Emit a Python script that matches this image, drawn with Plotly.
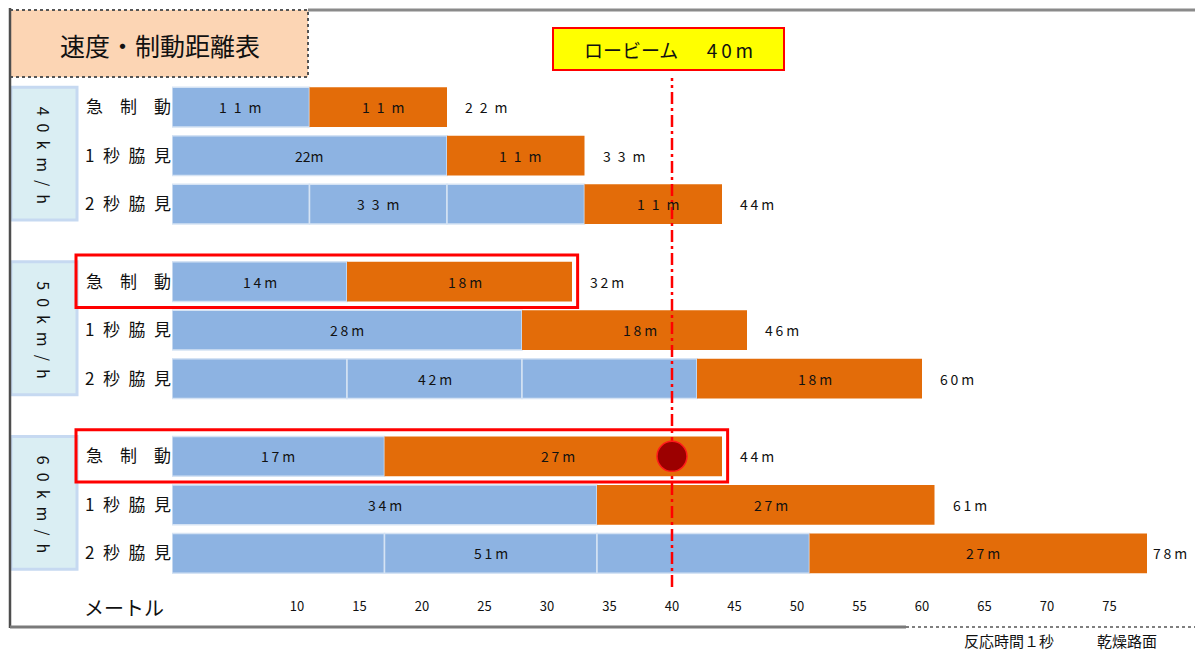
import plotly.graph_objects as go

# ---------------- data ----------------
speed_labels = ["40km/h", "50km/h", "60km/h"]
row_labels = ["急　制　動", "1\u2002秒\u2002脇\u2002見", "2\u2002秒\u2002脇\u2002見"]
# blue: reaction (1 s) + looking-away distance, split into the drawn segments (m)
blue_segments = [
    [11], [22], [11, 11, 11],
    [14], [28], [14, 14, 14],
    [17], [34], [17, 17, 17],
]
# orange: braking distance (m)
braking = [11, 11, 11, 18, 18, 18, 27, 27, 27]
# spacing style of each label as printed in the table
blue_gap = ["wide", "none", "wide", "thin", "thin", "thin", "thin", "thin", "thin"]
orange_gap = ["wide", "wide", "wide", "thin", "thin", "thin", "thin", "thin", "thin"]
total_gap = ["wide", "wide", "thin", "thin", "thin", "thin", "thin", "thin", "thin"]
highlight_rows = [3, 6]
low_beam = 40
marked_row = 6
x_ticks = [10, 15, 20, 25, 30, 35, 40, 45, 50, 55, 60, 65, 70, 75]
x_max = 80

# ---------------- layout helpers ----------------
W, H = 1195, 650
ML, MR, MT, MB = 172, 23, 78, 53
PW, PH = W - ML - MR, H - MT - MB
FONT = "Noto Sans CJK JP"
BLUE = "#8db3e2"
ORANGE = "#e36c09"
TXT = "#111111"
GAPS = {"wide": "\u2002", "thin": "\u2009", "none": ""}


def px_x(px):
    return (px - ML) / PW


def px_y(py):
    return (H - MB - py) / PH


def label(s, gap):
    return GAPS[gap].join(s)


ypos = [g * 3.6 + r for g in range(3) for r in range(3)]
blue_tot = [sum(s) for s in blue_segments]
totals = [b + o for b, o in zip(blue_tot, braking)]

fig = go.Figure()

# blue segments
for k in range(3):
    xs, bases, ys = [], [], []
    for i, segs in enumerate(blue_segments):
        if len(segs) > k:
            xs.append(segs[k])
            bases.append(sum(segs[:k]))
            ys.append(ypos[i])
    fig.add_trace(go.Bar(
        x=xs, base=bases, y=ys, orientation="h", width=0.82,
        marker=dict(color=BLUE, line=dict(color="#d5e3f4", width=1.5)),
        hoverinfo="skip", showlegend=False))

# orange braking segments
fig.add_trace(go.Bar(
    x=braking, base=blue_tot, y=ypos, orientation="h", width=0.82,
    marker=dict(color=ORANGE, line=dict(width=0)),
    hoverinfo="skip", showlegend=False))

annotations = []
shapes = []
LBL = dict(size=14, color=TXT, family=FONT)

# bar labels
for i in range(9):
    annotations.append(dict(
        x=blue_tot[i] / 2, y=ypos[i], xref="x", yref="y",
        xanchor="center", yanchor="middle",
        text=label(f"{blue_tot[i]}m", blue_gap[i]), showarrow=False, font=LBL))
    annotations.append(dict(
        x=blue_tot[i] + braking[i] / 2, y=ypos[i], xref="x", yref="y",
        xanchor="center", yanchor="middle", xshift=5,
        text=label(f"{braking[i]}m", orange_gap[i]), showarrow=False, font=LBL))
    annotations.append(dict(
        x=totals[i], y=ypos[i], xref="x", yref="y", xanchor="left", yanchor="middle",
        xshift=16 if totals[i] < 75 else 4,
        text=label(f"{totals[i]}m", total_gap[i]), showarrow=False, font=LBL))

# group (speed) boxes
for g in range(3):
    shapes.append(dict(
        type="rect", xref="paper", yref="y",
        x0=px_x(11), x1=px_x(77), y0=g * 3.6 - 0.41, y1=g * 3.6 + 2.33,
        fillcolor="#daeef3", line=dict(color="#c6d9f1", width=3), layer="below"))
    annotations.append(dict(
        x=px_x(44), y=g * 3.6 + 0.98, xref="paper", yref="y",
        xanchor="center", yanchor="middle",
        text="\u2002".join(speed_labels[g]), textangle=90, showarrow=False,
        font=dict(size=16, color=TXT, family=FONT)))

# red highlight boxes
for r in highlight_rows:
    shapes.append(dict(
        type="rect", xref="paper", yref="y",
        x0=px_x(76), x1=(totals[r] + 0.45) / x_max,
        y0=ypos[r] - 0.55, y1=ypos[r] + 0.53,
        line=dict(color="#ff0000", width=3), layer="above"))

# low beam line + marker dot
shapes.append(dict(
    type="line", xref="x", yref="paper", x0=low_beam, x1=low_beam,
    y0=px_y(587), y1=1.0,
    line=dict(color="#ff0000", width=2.5, dash="12px,4px,3px,4px"), layer="above"))
shapes.append(dict(
    type="circle", xref="x", yref="y", xsizemode="pixel", ysizemode="pixel",
    xanchor=low_beam, yanchor=ypos[marked_row], x0=-15, x1=15, y0=-15, y1=15,
    fillcolor="#9c0000", line=dict(color="#ff1a1a", width=1.5), layer="above"))

annotations.append(dict(
    x=low_beam - 0.3, y=px_y(49), xref="x", yref="paper",
    xanchor="center", yanchor="middle",
    text="ロービーム\u3000\u20024\u20090\u2009m", showarrow=False, width=229, height=40,
    bgcolor="#ffff00", bordercolor="#ff0000", borderwidth=2, borderpad=0,
    font=dict(size=19, color=TXT, family=FONT)))

# title box
shapes.append(dict(
    type="rect", xref="paper", yref="paper",
    x0=px_x(10), x1=px_x(308), y0=px_y(77), y1=px_y(10),
    fillcolor="#fcd5b4", line=dict(color="#555555", width=2, dash="dot")))
annotations.append(dict(
    x=px_x(160), y=px_y(45), xref="paper", yref="paper",
    xanchor="center", yanchor="middle",
    text="速度・制動距離表", showarrow=False,
    font=dict(size=25, color=TXT, family=FONT)))

# outer frame
shapes += [
    dict(type="line", xref="paper", yref="paper", x0=px_x(308), x1=px_x(1195),
         y0=px_y(10), y1=px_y(10), line=dict(color="#8a8a8a", width=3)),
    dict(type="line", xref="paper", yref="paper", x0=px_x(10), x1=px_x(10),
         y0=px_y(8), y1=px_y(628), line=dict(color="#4d4d4d", width=2.5)),
    dict(type="line", xref="paper", yref="paper", x0=px_x(10), x1=px_x(906),
         y0=px_y(627), y1=px_y(627), line=dict(color="#7a7a7a", width=3)),
    dict(type="line", xref="paper", yref="paper", x0=px_x(906), x1=px_x(1195),
         y0=px_y(627), y1=px_y(627), line=dict(color="#555555", width=1.5, dash="dot")),
]

# axis title and notes
annotations.append(dict(
    x=px_x(124), y=px_y(607), xref="paper", yref="paper", text="メートル",
    xanchor="center", yanchor="middle",
    showarrow=False, font=dict(size=20, color=TXT, family=FONT)))
annotations.append(dict(
    x=px_x(1009), y=px_y(641), xref="paper", yref="paper", text="反応時間１秒",
    xanchor="center", yanchor="middle",
    showarrow=False, font=dict(size=15, color=TXT, family=FONT)))
annotations.append(dict(
    x=px_x(1127), y=px_y(641), xref="paper", yref="paper", text="乾燥路面",
    xanchor="center", yanchor="middle",
    showarrow=False, font=dict(size=15, color=TXT, family=FONT)))

fig.update_layout(
    width=W, height=H, margin=dict(l=ML, r=MR, t=MT, b=MB),
    paper_bgcolor="white", plot_bgcolor="white",
    barmode="overlay", showlegend=False,
    font=dict(family=FONT, color=TXT),
    xaxis=dict(range=[0, x_max], tickvals=x_ticks, showgrid=False, zeroline=False,
               showline=False, ticks="", tickfont=dict(size=13, color=TXT, family=FONT)),
    yaxis=dict(range=[10.1, -0.6], tickvals=ypos, ticktext=row_labels * 3,
               showgrid=False, zeroline=False, showline=False, ticks="",
               tickfont=dict(size=17, color=TXT, family=FONT)),
    shapes=shapes, annotations=annotations,
)

fig.write_html("out.html")
